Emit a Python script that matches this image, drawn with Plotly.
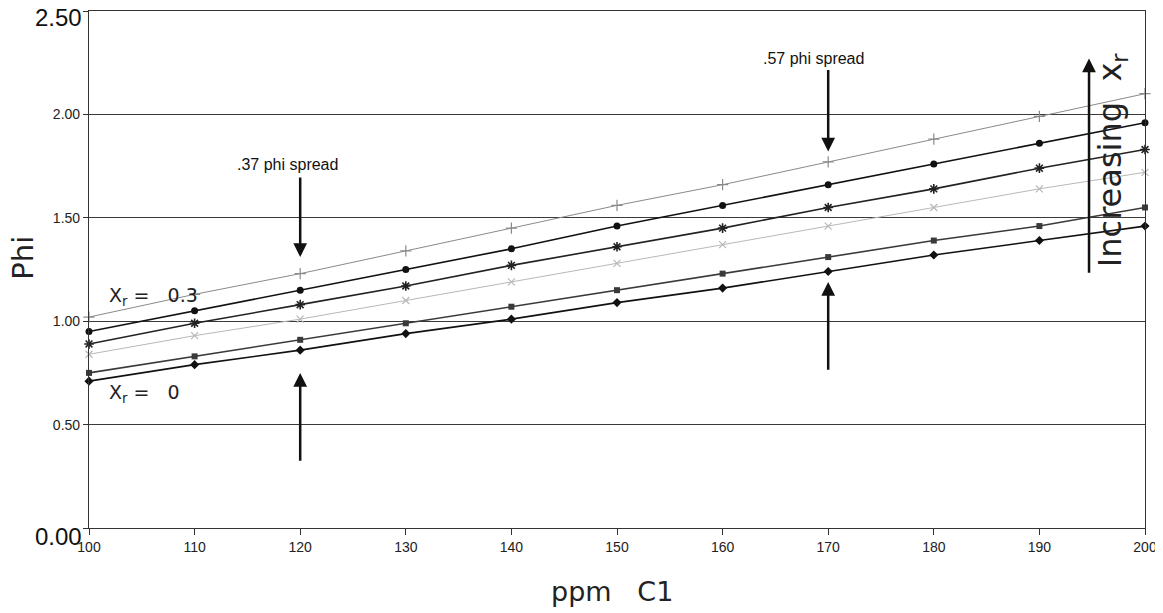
import plotly.graph_objects as go

ppm = [100, 110, 120, 130, 140, 150, 160, 170, 180, 190, 200]
phi_plus = [1.02, 1.13, 1.23, 1.34, 1.45, 1.56, 1.66, 1.77, 1.88, 1.99, 2.10]
phi_circle = [0.95, 1.05, 1.15, 1.25, 1.35, 1.46, 1.56, 1.66, 1.76, 1.86, 1.96]
phi_star = [0.89, 0.99, 1.08, 1.17, 1.27, 1.36, 1.45, 1.55, 1.64, 1.74, 1.83]
phi_x = [0.84, 0.93, 1.01, 1.10, 1.19, 1.28, 1.37, 1.46, 1.55, 1.64, 1.72]
phi_square = [0.75, 0.83, 0.91, 0.99, 1.07, 1.15, 1.23, 1.31, 1.39, 1.46, 1.55]
phi_diamond = [0.71, 0.79, 0.86, 0.94, 1.01, 1.09, 1.16, 1.24, 1.32, 1.39, 1.46]

y_ticks = [0.0, 0.5, 1.0, 1.5, 2.0, 2.5]
y_ticklabels = ["0.00", "0.50", "1.00", "1.50", "2.00", "2.50"]
x_ticks = ppm

FONT = "Liberation Sans, Arial, sans-serif"
BIGFONT = "DejaVu Sans, sans-serif"

series = [
    (phi_plus, "cross-thin", "#8a8a8a", 1.0, 8, 1.2),
    (phi_circle, "circle", "#111111", 1.6, 7, 0),
    (phi_star, "asterisk", "#222222", 1.6, 8, 1.6),
    (phi_x, "x-thin", "#b8b8b8", 1.0, 7, 1.2),
    (phi_square, "square", "#3a3a3a", 1.6, 6, 0),
    (phi_diamond, "diamond", "#111111", 1.6, 7, 0),
]

fig = go.Figure()
for ys, sym, col, lw, ms, mlw in series:
    fig.add_trace(go.Scatter(
        x=ppm, y=ys, mode="lines+markers",
        line=dict(color=col, width=lw),
        marker=dict(symbol=sym, size=ms, color=col,
                    line=dict(color=col, width=mlw)),
        showlegend=False, cliponaxis=False,
    ))

# the two end labels are drawn larger (and lower) as separate text below
ytext = ["" if t in ("0.00", "2.50") else t for t in y_ticklabels]

# page body has an 8px default margin, so the figure is sized to fit inside
fig.update_layout(
    width=1155, height=605,
    margin=dict(l=81, r=18, t=3, b=85),
    paper_bgcolor="white", plot_bgcolor="white",
    font=dict(family=FONT, color="#222222", size=14),
    xaxis=dict(range=[100, 200], tickvals=x_ticks, ticks="outside",
               ticklen=6, tickcolor="#333", showgrid=False, zeroline=False,
               showline=True, linecolor="#333", linewidth=1.2, mirror=True,
               tickfont=dict(size=14), automargin=False,
               ticklabeloverflow="allow"),
    yaxis=dict(range=[0, 2.5], tickvals=y_ticks, ticktext=ytext,
               ticks="outside", ticklen=5, tickcolor="#333",
               showgrid=True, gridcolor="#3a3a3a", gridwidth=1,
               zeroline=False, showline=True, linecolor="#333",
               linewidth=1.2, mirror=True, tickfont=dict(size=14),
               automargin=False, ticklabeloverflow="allow"),
)

for lab, py in ((y_ticklabels[-1], 0.988), (y_ticklabels[0], -0.017)):
    fig.add_annotation(text=lab, xref="paper", yref="paper", x=-0.005, y=py,
                       xanchor="right", yanchor="middle", showarrow=False,
                       font=dict(size=24, family=FONT, color="#111"))

# axis titles
fig.add_annotation(text="Phi", xref="paper", yref="paper", x=-0.062, y=0.522,
                   xanchor="center", yanchor="middle",
                   textangle=-90, showarrow=False,
                   font=dict(size=29, family=BIGFONT, color="#222"))
fig.add_annotation(text="ppm&nbsp;&nbsp;&nbsp;C1", xref="paper", yref="paper",
                   x=0.495, y=-0.122, xanchor="center", yanchor="middle",
                   showarrow=False,
                   font=dict(size=27, family=BIGFONT, color="#222"))

# spread labels
fig.add_annotation(text=".37 phi spread", x=118.75, y=1.76, xref="x", yref="y",
                   showarrow=False, xanchor="center",
                   font=dict(size=16, family=FONT, color="#111"))
fig.add_annotation(text=".57 phi spread", x=168.6, y=2.27, xref="x", yref="y",
                   showarrow=False, xanchor="center",
                   font=dict(size=16, family=FONT, color="#111"))

arrows = [
    (120, 1.31, 120, 1.70),
    (170, 1.82, 170, 2.22),
    (120, 0.75, 120, 0.32),
    (170, 1.19, 170, 0.76),
    (194.7, 2.27, 194.7, 1.23),
]
for x, y, ax, ay in arrows:
    fig.add_annotation(x=x, y=y, ax=ax, ay=ay, xref="x", yref="y",
                       axref="x", ayref="y", showarrow=True, text=" ",
                       font=dict(size=1), borderpad=0,
                       arrowhead=2, arrowsize=1.1, arrowwidth=2.5,
                       arrowcolor="#111")

fig.add_annotation(text="X<sub>r</sub>&nbsp;=&nbsp;&nbsp;&nbsp;0.3", x=101.7, y=1.12,
                   xref="x", yref="y", xanchor="left", showarrow=False,
                   font=dict(size=19, family=BIGFONT, color="#222"))
fig.add_annotation(text="X<sub>r</sub>&nbsp;=&nbsp;&nbsp;&nbsp;0", x=101.7, y=0.65,
                   xref="x", yref="y", xanchor="left", showarrow=False,
                   font=dict(size=19, family=BIGFONT, color="#222"))
fig.add_annotation(text="Increasing&nbsp;&nbsp;x<sub>r</sub>", x=196.9, y=1.78,
                   xref="x", yref="y", textangle=-90, showarrow=False,
                   xanchor="center", yanchor="middle",
                   font=dict(size=32, family=BIGFONT, color="#222"))

fig.write_html("out.html")
